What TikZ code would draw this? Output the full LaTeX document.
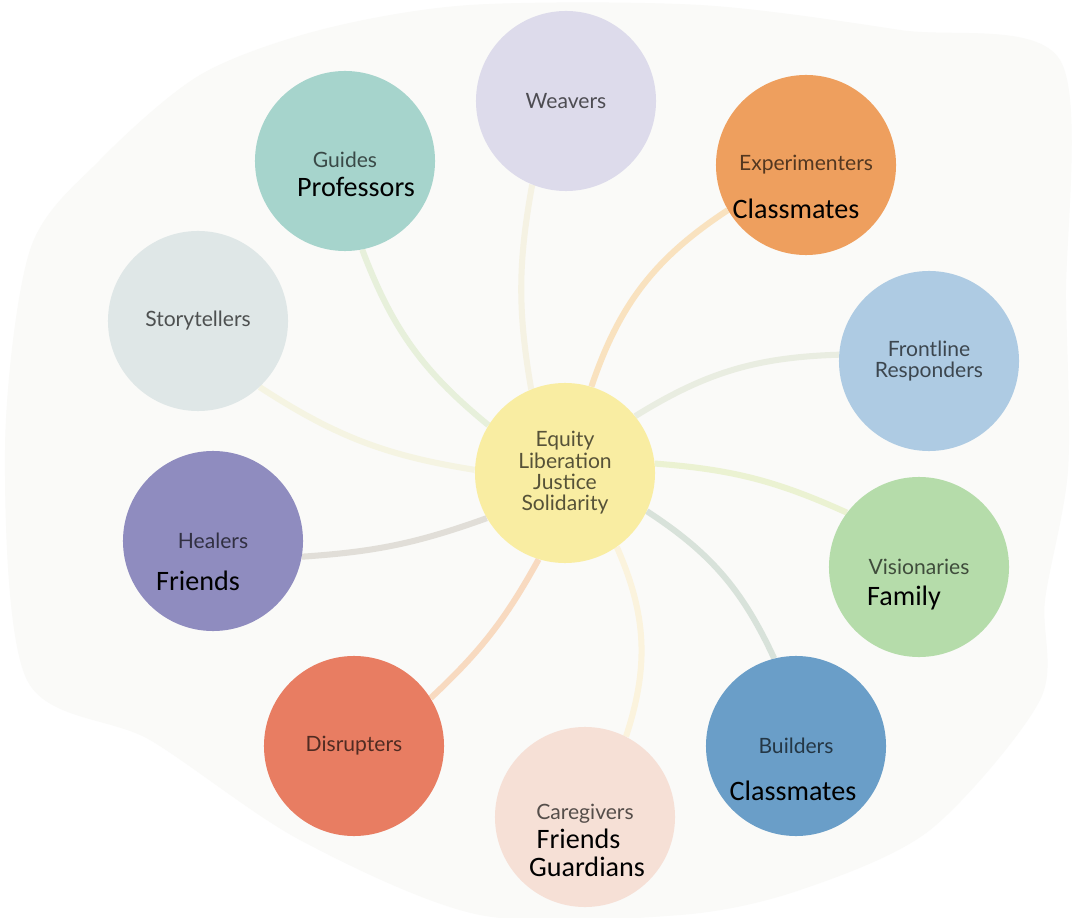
\documentclass[tikz,border=0pt]{standalone}
\usepackage{fontspec}
\setmainfont{Lato}
\newfontfamily\peoplefont{Carlito}
\usetikzlibrary{positioning,backgrounds}

\definecolor{blobbg}{HTML}{FAFAF8}
\definecolor{corec}{HTML}{F9EDA2}
\definecolor{weaversc}{HTML}{DDDBEB}
\definecolor{guidesc}{HTML}{A6D4CC}
\definecolor{experimentersc}{HTML}{EE9F5E}
\definecolor{storytellersc}{HTML}{DFE7E7}
\definecolor{frontlinec}{HTML}{AECBE3}
\definecolor{healersc}{HTML}{8F8CBF}
\definecolor{visionariesc}{HTML}{B5DCAA}
\definecolor{buildersc}{HTML}{6A9EC8}
\definecolor{disruptersc}{HTML}{E87D62}
\definecolor{caregiversc}{HTML}{F6E0D6}

\begin{document}
\begin{tikzpicture}[
    x=0.025cm, y=-0.025cm,
    bubble/.style={circle, minimum size=4.5cm, inner sep=0pt, fill=#1},
    role/.style={font=\fontsize{15}{15.2}\selectfont, text=black, text opacity=0.65, align=center},
    people/.style={font=\peoplefont\fontsize{20}{20}\selectfont, text=black, align=center},
    link/.style={line width=4.3pt, draw=#1!50!corec!50!white}
]

% Page and pale backdrop
\useasboundingbox (0,0) rectangle (1072,918);
\begin{scope}[on background layer]
  \fill [white] (0,0) rectangle (1072,918);
  \fill [blobbg] plot [smooth cycle, tension=0.5] coordinates {
    (30,250) (100,160) (200,75) (320,30) (470,5) (700,5) (900,30) (1060,60)
    (1066,300) (1068,470) (1045,600) (1040,700) (930,830) (800,890) (680,915)
    (480,915) (300,840) (150,740) (27,680) (5,450)};
\end{scope}

% Centre
\node (core) at (565,473) [bubble=corec, role] {Equity\\Liberation\\Justice\\Solidarity};

% Outer bubbles with their role names
\foreach \name/\x/\y/\ty/\txt in {
    weavers/566/101/101/Weavers,
    guides/345/161/160/Guides,
    experimenters/806/165/165/Experimenters,
    storytellers/198/321/321/Storytellers,
    frontline/929/361/361/{Frontline\\Responders},
    healers/213/541/541/Healers,
    visionaries/919/567/567/Visionaries,
    disrupters/354/746/746/Disrupters,
    builders/796/746/746/Builders,
    caregivers/585/817/814/Caregivers} {
  \node (\name) at (\x,\y) [bubble=\name c] {};
  \node (\name-role) at (\x,\ty) [role] {\txt};
}

% People added below the role names
\node (guides-ppl) at (356,187) [people] {Professors};
\node (experimenters-ppl) at (796,209) [people] {Classmates};
\node (healers-ppl) at (198,581) [people] {Friends};
\node (visionaries-ppl) at (904,598) [people] {Family};
\node (builders-ppl) at (793,791) [people] {Classmates};
\node (caregivers-ppl) at (587,853) [people] {\hspace*{-0.6em}Friends\\Guardians};

% Curved links from the centre
\begin{scope}[on background layer]
  \foreach \name/\a/\b/\bend in {
      weavers/112/248/10,
      guides/148/281/15,
      experimenters/73/210/19,
      frontline/39/176/15,
      visionaries/6/143/10,
      builders/335/104/16,
      caregivers/305/63/21,
      disrupters/253/32/9,
      healers/210/350/8,
      storytellers/178/313/12} {
    \draw [link=\name c] (core.\a) to [bend left=\bend] (\name.\b);
  }
\end{scope}

\end{tikzpicture}
\end{document}
